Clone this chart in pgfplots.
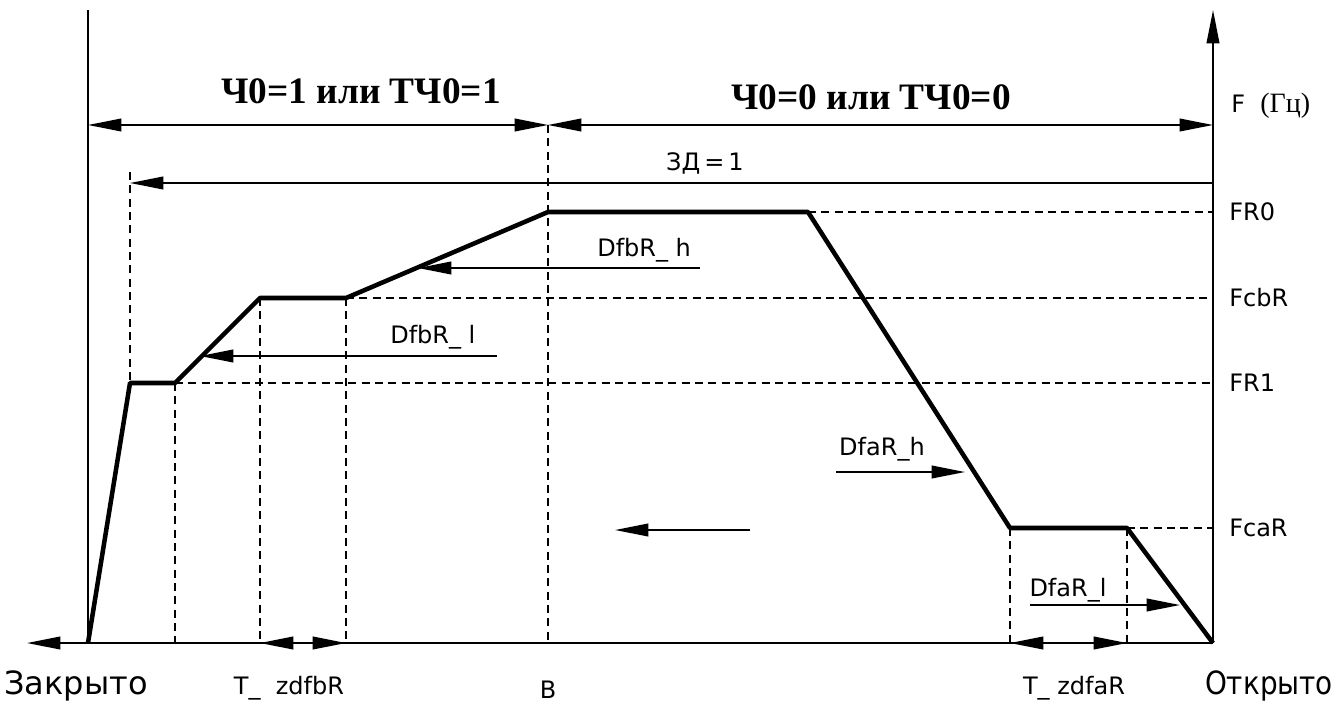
\documentclass[border=0pt]{standalone}
\usepackage{pgfplots}
\pgfplotsset{compat=1.18}
\usetikzlibrary{arrows.meta}
\usepackage{graphicx}
\usepackage{fontspec}
\setmainfont{DejaVu Sans}
\newfontfamily\tnr{Liberation Serif}

\tikzset{
  thin line/.style={black, line width=1.3pt},
  guide/.style={black, line width=1.1pt, dash pattern=on 6pt off 4pt},
  tip/.style={-{Triangle[length=25pt,width=9.5pt]}},
  dtip/.style={{Triangle[length=25pt,width=9.5pt]}-{Triangle[length=25pt,width=9.5pt]}},
  lbl/.style={font=\fontsize{18}{21}\selectfont, inner sep=0pt},
}

\begin{document}
\begin{tikzpicture}
\begin{axis}[
    width=1002pt, height=531.75pt,
    scale only axis,
    xmin=0, xmax=1336,
    ymin=0, ymax=709,
    y dir=reverse,
    hide axis,
    clip=false,
]
\path (axis cs:0,0) rectangle (axis cs:1336,709);

% dashed guides
\addplot[guide] coordinates {(130,172) (130,383)};
\addplot[guide] coordinates {(175,383) (175,643)};
\addplot[guide] coordinates {(260,298) (260,643)};
\addplot[guide] coordinates {(346,298) (346,643)};
\addplot[guide] coordinates {(548,125) (548,643)};
\addplot[guide] coordinates {(1010,528) (1010,643)};
\addplot[guide] coordinates {(1127,528) (1127,643)};
\addplot[guide] coordinates {(808,212) (1213,212)};
\addplot[guide] coordinates {(346,298) (1213,298)};
\addplot[guide] coordinates {(175,383) (1213,383)};
\addplot[guide] coordinates {(1127,528) (1213,528)};

% axes
\addplot[thin line] coordinates {(88,10) (88,643)};
\addplot[thin line, -{Triangle[length=25pt,width=9.5pt]}] coordinates {(1213,643) (1213,10)};
\addplot[thin line, -{Triangle[length=25pt,width=9.5pt]}] coordinates {(1213,643) (27,643)};
\addplot[black, line width=2pt] coordinates {(260,643) (1213,643)};

% top arrows
\addplot[thin line, dtip] coordinates {(88,125) (548,125)};
\addplot[thin line, dtip] coordinates {(548,125) (1213,125)};
\addplot[thin line, tip] coordinates {(1213,183) (130,183)};

% speed profile
\addplot[black, line width=3.4pt, line join=round] coordinates {
  (88,643) (130,383) (175,383) (260,298) (346,298) (548,212)
  (808,212) (1010,528) (1127,528) (1213,643)
};

% rate arrows
\addplot[thin line, tip] coordinates {(700,268) (418,268)};
\addplot[thin line, tip] coordinates {(497,356) (200,356)};
\addplot[thin line, tip] coordinates {(836,472) (965,472)};
\addplot[thin line, tip] coordinates {(1030,605) (1180,605)};
\addplot[thin line, tip] coordinates {(750,530) (615,530)};
\addplot[thin line, dtip] coordinates {(260,643) (346,643)};
\addplot[thin line, dtip] coordinates {(1010,643) (1127,643)};

% texts
\node[font=\tnr\bfseries\fontsize{28}{32}\selectfont, inner sep=0pt] at (axis cs:361,91) {Ч0=1 или ТЧ0=1};
\node[font=\tnr\bfseries\fontsize{28}{32}\selectfont, inner sep=0pt] at (axis cs:871,97) {Ч0=0 или ТЧ0=0};
\node[lbl] at (axis cs:705,163) {ЗД\,=\,1};
\node[lbl, anchor=west] at (axis cs:1231,106) {F\ \ {\tnr\fontsize{21}{24}\selectfont (Гц)}};
\node[lbl, anchor=west] at (axis cs:1229,212) {FR0};
\node[lbl, anchor=west] at (axis cs:1229,298) {FcbR};
\node[lbl, anchor=west] at (axis cs:1229,383) {FR1};
\node[lbl, anchor=west] at (axis cs:1229,528) {FcaR};
\node[lbl, anchor=west] at (axis cs:597,250) {DfbR\_\ h};
\node[lbl, anchor=west] at (axis cs:390,337) {DfbR\_\ l};
\node[lbl] at (axis cs:882,449) {DfaR\_h};
\node[lbl] at (axis cs:1068,590) {DfaR\_l};
\node[font=\fontsize{24}{28}\selectfont, inner sep=0pt] at (axis cs:76,686) {Закрыто};
\node[font=\fontsize{24}{28}\selectfont, inner sep=0pt] at (axis cs:1269,686) {\scalebox{0.87}[1]{Открыто}};
\node[lbl] at (axis cs:289,688) {T\_\ \ zdfbR};
\node[lbl] at (axis cs:548,690) {B};
\node[lbl] at (axis cs:1074,688) {T\_ zdfaR};
\end{axis}
\end{tikzpicture}
\end{document}
